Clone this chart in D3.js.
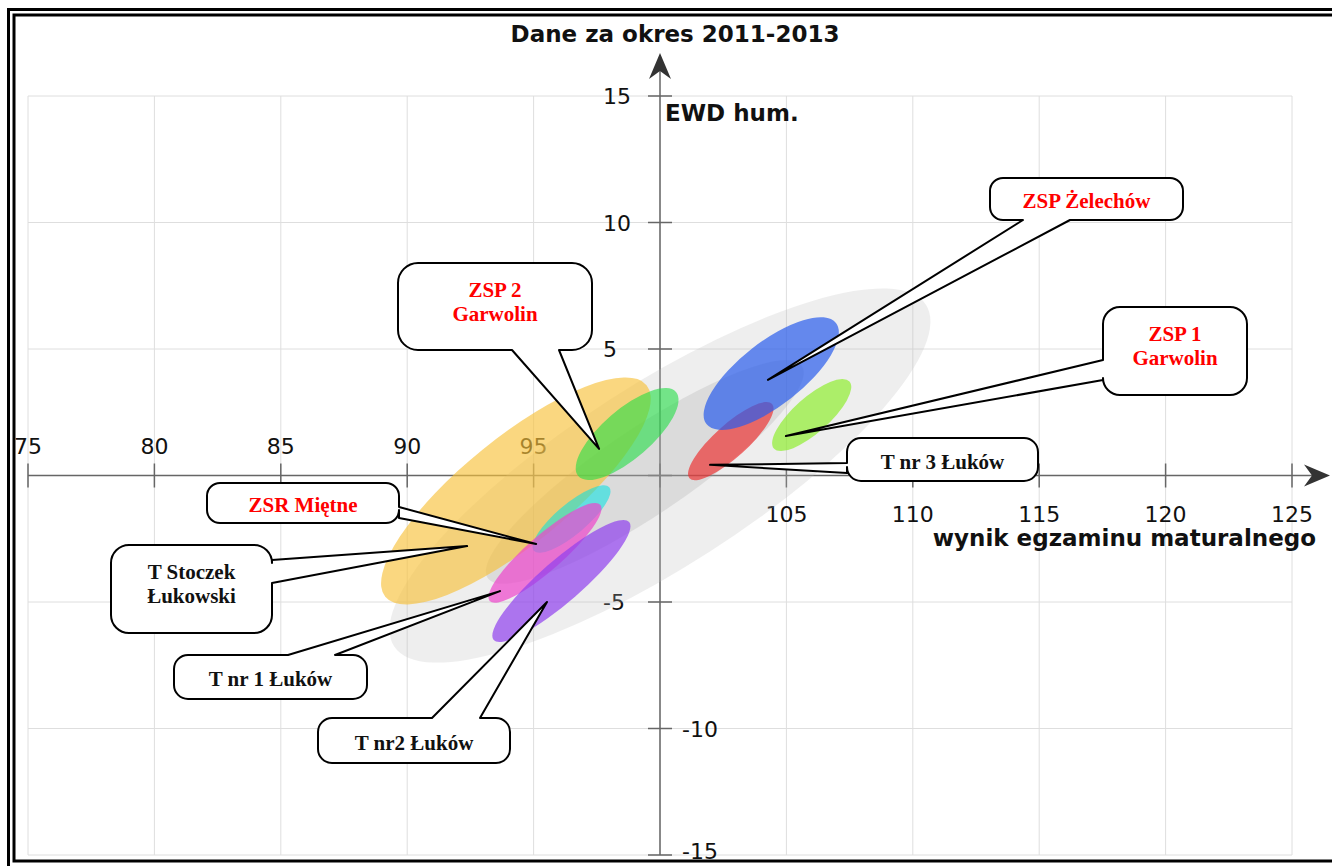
<!DOCTYPE html>
<html lang="pl">
<head>
<meta charset="UTF-8">
<title>Dane za okres 2011-2013</title>
<script src="https://d3js.org/d3.v7.min.js"></script>
<style>
  body { margin: 0; background: #fff; }
  .tick-label { font-family: 'DejaVu Sans', sans-serif; font-size: 22px; fill: #111; }
  .axis-title { font-family: 'DejaVu Sans', sans-serif; font-weight: bold; font-size: 23px; fill: #111; }
  .callout text { font-family: 'Liberation Serif', 'Times New Roman', serif; font-weight: bold; font-size: 21px; }
</style>
</head>
<body>
<script>
const width = 1332;
const height = 866;

// axes
const xTicks = [75, 80, 85, 90, 95, 100, 105, 110, 115, 120, 125];
const yTicks = [-15, -10, -5, 0, 5, 10, 15];
const xLabelsAbove = [75, 80, 85, 90, 95];
const xLabelsBelow = [105, 110, 115, 120, 125];
const yLabelsLeft = [15, 10, 5, -5];
const yLabelsRight = [-10, -15];

// ellipses: centre (wynik matury, EWD), half axes in points, tilt in degrees
const ellipseNames = ['wszystkie szkoły', 'przedział', 'T Stoczek Łukowski', 'ZSP 2 Garwolin', 'ZSR Miętne',
                      'T nr 1 Łuków', 'T nr2 Łuków', 'T nr 3 Łuków', 'ZSP Żelechów', 'ZSP 1 Garwolin'];
const ellipseX    = [100, 99.4, 94.3, 98.7, 96.5, 95.45, 96.1, 102.8, 104.4, 106.0];
const ellipseY    = [0, 0.14, -0.61, 1.64, -1.72, -3.06, -4.17, 1.36, 4.03, 2.39];
const ellipseA    = [12.5, 7.5, 6.65, 2.55, 1.95, 2.9, 3.55, 2.2, 3.25, 2.0];
const ellipseB    = [3.6, 1.7, 2.1, 0.97, 0.6, 0.7, 0.82, 0.65, 1.25, 0.7];
const ellipseTilt = [32.7, 34, 39, 40.7, 40, 41, 41, 42, 38, 41.6];
const ellipseFill = ['#bbbbbb', '#999999', '#f7c23c', '#22dd44', '#00e2e2', '#ee44cc', '#9040ee', '#ee2a2a', '#2a5cec', '#88ee22'];
const ellipseAlpha = [0.25, 0.22, 0.65, 0.6, 0.55, 0.7, 0.7, 0.65, 0.7, 0.65];

// callouts: text and the point they aim at
const calloutText = [['ZSP Żelechów'], ['ZSP 1', 'Garwolin'], ['T nr 3 Łuków'], ['ZSP 2', 'Garwolin'],
                     ['ZSR Miętne'], ['T Stoczek', 'Łukowski'], ['T nr 1 Łuków'], ['T nr2 Łuków']];
const calloutX = [104.27, 104.98, 101.98, 97.59, 95.1, 92.37, 93.67, 95.53];
const calloutY = [3.78, 1.56, 0.42, 1.05, -2.71, -2.79, -4.57, -5.0];
const calloutRed = [true, true, false, true, true, false, false, false];

// where the boxes sit on the page
const calloutLayout = [
    {box: [990, 178, 1183, 220], side: 'bottom', base: [1023, 1070], r: 13},
    {box: [1103, 307, 1247, 395], side: 'left', base: [360, 380], r: 17},
    {box: [847, 438, 1038, 481], side: 'left', base: [463, 473], r: 14},
    {box: [398, 263, 592, 350], side: 'bottom', base: [512, 559], r: 20},
    {box: [207, 483, 399, 523], side: 'right', base: [507, 518], r: 13},
    {box: [111, 545, 272, 633], side: 'right', base: [560, 583], r: 18},
    {box: [174, 655, 367, 699], side: 'top', base: [288, 335], r: 14},
    {box: [318, 718, 510, 763], side: 'top', base: [432, 480], r: 14}
];

const x = d3.scaleLinear().domain([75, 125]).range([28, 1292]);
const y = d3.scaleLinear().domain([-15, 15]).range([855, 96]);
const unit = x(1) - x(0);

const svg = d3.select('body').append('svg').attr('width', width).attr('height', height);

// double frame
svg.append('rect').attr('x', 8.5).attr('y', 9.5).attr('width', 1340).attr('height', 858)
   .attr('fill', 'none').attr('stroke', '#000').attr('stroke-width', 3);
svg.append('rect').attr('x', 14).attr('y', 15).attr('width', 1340).attr('height', 846)
   .attr('fill', 'none').attr('stroke', '#000').attr('stroke-width', 3);

// grid
const grid = svg.append('g').attr('stroke', '#dedede').attr('stroke-width', 1);
grid.selectAll('.gx').data(xTicks).enter().append('line')
    .attr('x1', d => x(d)).attr('x2', d => x(d)).attr('y1', y(15)).attr('y2', y(-15));
grid.selectAll('.gy').data(yTicks).enter().append('line')
    .attr('x1', x(75)).attr('x2', x(125)).attr('y1', d => y(d)).attr('y2', d => y(d));

// tick labels (drawn under the ellipses)
svg.selectAll('.xa').data(xLabelsAbove).enter().append('text').attr('class', 'tick-label')
   .attr('x', d => x(d)).attr('y', y(0) - 22).attr('text-anchor', 'middle').text(d => d);
svg.selectAll('.xb').data(xLabelsBelow).enter().append('text').attr('class', 'tick-label')
   .attr('x', d => x(d)).attr('y', y(0) + 46).attr('text-anchor', 'middle').text(d => d);
svg.selectAll('.yl').data(yLabelsLeft).enter().append('text').attr('class', 'tick-label')
   .attr('x', x(100) - 57).attr('y', d => y(d) + 8).attr('text-anchor', 'start').text(d => d);
svg.selectAll('.yr').data(yLabelsRight).enter().append('text').attr('class', 'tick-label')
   .attr('x', x(100) + 22).attr('y', d => Math.min(y(d) + 8, 859)).attr('text-anchor', 'start').text(d => d);

// axes through (100, 0)
const axis = svg.append('g').attr('stroke', '#666').attr('stroke-width', 1.5);
axis.append('line').attr('x1', x(75)).attr('x2', 1315).attr('y1', y(0)).attr('y2', y(0));
axis.append('line').attr('x1', x(100)).attr('x2', x(100)).attr('y1', y(-15)).attr('y2', 65);
axis.selectAll('.tx').data(xTicks).enter().append('line')
    .attr('x1', d => x(d)).attr('x2', d => x(d)).attr('y1', y(0) - 12).attr('y2', y(0) + 12);
axis.selectAll('.ty').data(yTicks).enter().append('line')
    .attr('x1', x(100) - 12).attr('x2', x(100) + 12).attr('y1', d => y(d)).attr('y2', d => y(d));

const ax = x(100), ay = y(0);
svg.append('path').attr('fill', '#333')
   .attr('d', `M${ax},53 L${ax - 11},79 L${ax},71 L${ax + 11},79 Z`);
svg.append('path').attr('fill', '#333')
   .attr('d', `M1330,${ay} L1304,${ay - 11} L1312,${ay} L1304,${ay + 11} Z`);

// ellipses
svg.selectAll('.ell').data(ellipseNames).enter().append('ellipse')
   .attr('class', 'ell')
   .attr('transform', (d, i) => `translate(${x(ellipseX[i])},${y(ellipseY[i])}) rotate(${-ellipseTilt[i]})`)
   .attr('rx', (d, i) => ellipseA[i] * unit)
   .attr('ry', (d, i) => ellipseB[i] * unit)
   .attr('fill', (d, i) => ellipseFill[i])
   .attr('fill-opacity', (d, i) => ellipseAlpha[i]);

// callouts
function calloutPath(l, tx, ty) {
    const [x0, y0, x1, y1] = l.box, r = l.r, [b1, b2] = l.base;
    const p = d3.path();
    p.moveTo(x0 + r, y0);
    if (l.side === 'top') { p.lineTo(b1, y0); p.lineTo(tx, ty); p.lineTo(b2, y0); }
    p.lineTo(x1 - r, y0); p.arcTo(x1, y0, x1, y0 + r, r);
    if (l.side === 'right') { p.lineTo(x1, b1); p.lineTo(tx, ty); p.lineTo(x1, b2); }
    p.lineTo(x1, y1 - r); p.arcTo(x1, y1, x1 - r, y1, r);
    if (l.side === 'bottom') { p.lineTo(b2, y1); p.lineTo(tx, ty); p.lineTo(b1, y1); }
    p.lineTo(x0 + r, y1); p.arcTo(x0, y1, x0, y1 - r, r);
    if (l.side === 'left') { p.lineTo(x0, b2); p.lineTo(tx, ty); p.lineTo(x0, b1); }
    p.lineTo(x0, y0 + r); p.arcTo(x0, y0, x0 + r, y0, r);
    p.closePath();
    return p.toString();
}

const callouts = svg.selectAll('.callout').data(calloutText).enter().append('g').attr('class', 'callout');
callouts.append('path')
    .attr('d', (d, i) => calloutPath(calloutLayout[i], x(calloutX[i]), y(calloutY[i])))
    .attr('fill', '#fff').attr('stroke', '#000').attr('stroke-width', 2).attr('stroke-linejoin', 'round');
callouts.each(function (d, i) {
    const [x0, y0, x1, y1] = calloutLayout[i].box;
    const cx = (x0 + x1) / 2, cy = (y0 + y1) / 2;
    const offs = d.length === 1 ? [9] : [-10, 14];
    d3.select(this).selectAll('text').data(d).enter().append('text')
      .attr('x', cx).attr('y', (t, j) => cy + offs[j])
      .attr('text-anchor', 'middle')
      .attr('fill', calloutRed[i] ? '#ff0000' : '#111')
      .text(t => t);
});

// titles
svg.append('text').attr('class', 'axis-title').attr('x', 675).attr('y', 42)
   .attr('text-anchor', 'middle').text('Dane za okres 2011-2013');
svg.append('text').attr('class', 'axis-title').attr('x', x(100) + 5).attr('y', 121)
   .text('EWD hum.');
svg.append('text').attr('class', 'axis-title').attr('x', 1316).attr('y', 546)
   .attr('text-anchor', 'end').text('wynik egzaminu maturalnego');
</script>
</body>
</html>
